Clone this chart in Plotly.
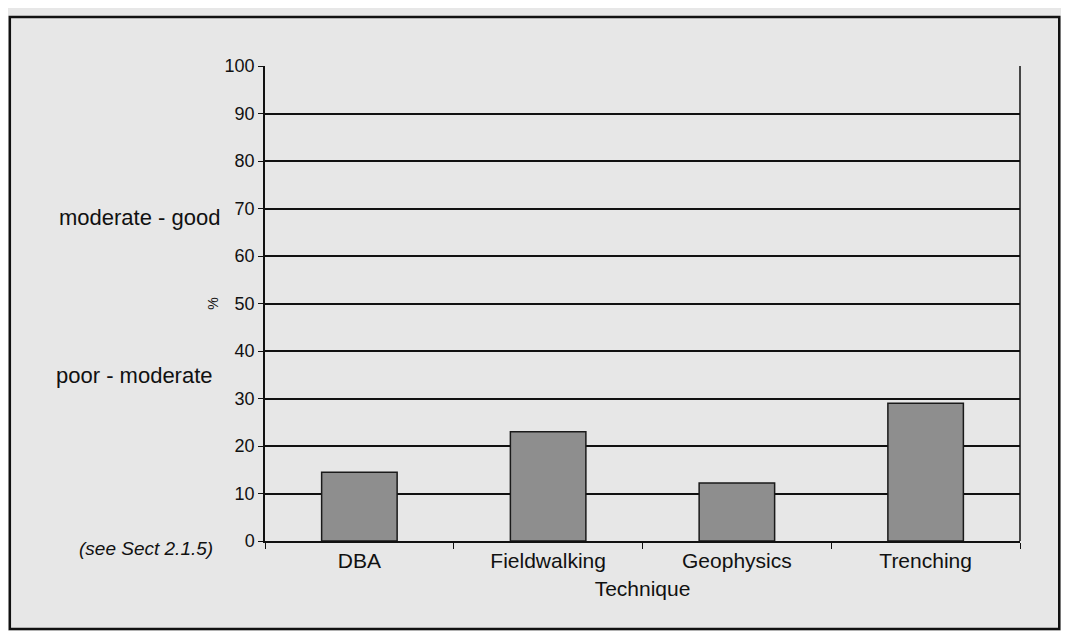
import plotly.graph_objects as go

categories = ["DBA", "Fieldwalking", "Geophysics", "Trenching"]
values = [14.5, 23, 12.2, 29]
y_ticks = [0, 10, 20, 30, 40, 50, 60, 70, 80, 90, 100]

FONT = "Arial, Liberation Sans, Helvetica, sans-serif"

fig = go.Figure()
fig.add_trace(go.Bar(
    x=categories, y=values,
    marker=dict(color="#8e8e8e", line=dict(color="#1a1a1a", width=1.5)),
    showlegend=False,
))

fig.update_layout(
    width=1053, height=623,
    margin=dict(l=257, r=41, t=58, b=90),
    paper_bgcolor="#e7e7e7",
    plot_bgcolor="#e7e7e7",
    bargap=0.6,
    font=dict(family=FONT, color="#111111", size=18),
    xaxis=dict(
        showline=True, linecolor="#111111", linewidth=1.5,
        ticks="outside", tickson="boundaries", ticklen=6, tickcolor="#111111",
        tickfont=dict(size=21),
        title=dict(text="Technique", font=dict(size=21), standoff=10),
        showgrid=False,
        mirror=False,
    ),
    yaxis=dict(
        range=[0, 100], tickvals=y_ticks,
        showline=True, linecolor="#111111", linewidth=1.5,
        ticks="outside", ticklen=5, tickcolor="#111111",
        tickfont=dict(size=18),
        showgrid=True, gridcolor="#111111", gridwidth=1.5,
        title=dict(text="%", font=dict(size=14), standoff=3),
        zeroline=False,
    ),
)

# right border of plot area
fig.add_shape(type="line", xref="paper", yref="paper", x0=1, x1=1, y0=0, y1=1,
              line=dict(color="#111111", width=1.5))
# outer frame
fig.add_shape(type="rect", xref="paper", yref="paper",
              x0=-0.338, x1=1.052, y0=-0.185, y1=1.103,
              line=dict(color="#111111", width=2.5), fillcolor="rgba(0,0,0,0)")

fig.add_annotation(text="moderate - good", xref="paper", yref="paper",
                   x=-0.057, y=0.68, xanchor="right", yanchor="middle",
                   showarrow=False, font=dict(size=22))
fig.add_annotation(text="poor - moderate", xref="paper", yref="paper",
                   x=-0.066, y=0.349, xanchor="right", yanchor="middle",
                   showarrow=False, font=dict(size=22))
fig.add_annotation(text="<i>(see Sect 2.1.5)</i>", xref="paper", yref="paper",
                   x=-0.066, y=-0.015, xanchor="right", yanchor="middle",
                   showarrow=False, font=dict(size=19))

fig.write_html("out.html")
